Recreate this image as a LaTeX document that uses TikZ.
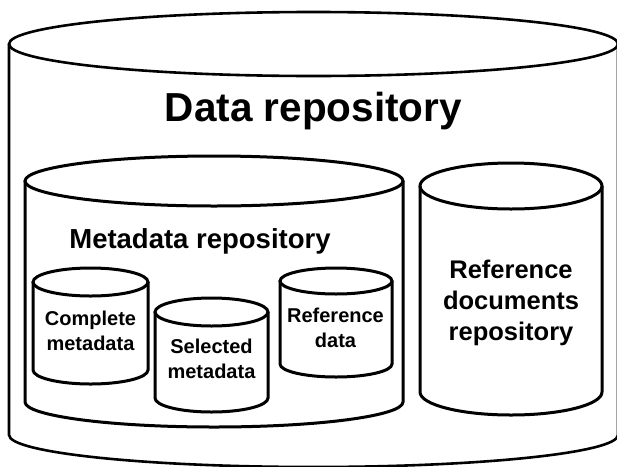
\documentclass[tikz,border=0pt]{standalone}
\usepackage{fontspec}
\setmainfont{Liberation Sans}
\usepackage{tikz}

% a standing cylinder: [style] centre x, half width, top y, bottom y, cap radius
\newcommand{\repodrum}[6][]{%
  \draw[#1] (#2,#4) ellipse [x radius=#3, y radius=#6];
  \draw[#1] (#2-#3,#4) -- (#2-#3,#5)
    arc [start angle=180, end angle=0, x radius=#3, y radius=#6] -- (#2+#3,#4);
}

% labels sit on the baseline of their last line
\tikzset{
  biglabel/.style={anchor=base, inner sep=0pt, font=\fontsize{40.5}{48}\selectfont\bfseries},
  midlabel/.style={anchor=base, inner sep=0pt, align=center, font=\fontsize{25.5}{31}\selectfont\bfseries},
  smalllabel/.style={anchor=base, inner sep=0pt, align=center, font=\fontsize{20}{24.5}\selectfont\bfseries}
}

\begin{document}
\begin{tikzpicture}[x=1pt, y=-1pt, line width=3pt]
    \useasboundingbox (0,0) rectangle (617,466);
    \clip (0,0) rectangle (617,466);
    % outer store
    \repodrum[line width=2.6pt]{313.5}{304.5}{44}{435}{32}
    \node[biglabel] (datarepo) at (313.5,121) {Data repository};
    % inner stores
    \repodrum{214}{189}{181}{402}{25}
    \node[midlabel, font=\fontsize{27.5}{33}\selectfont\bfseries] (metarepo) at (200,248) {Metadata repository};
    \repodrum{511}{91}{186}{392}{23}
    \node[midlabel] (refdocs) at (511,340) {Reference\\documents\\repository};
    % metadata parts
    \repodrum{90.5}{57.5}{282}{370}{14}
    \node[smalllabel] (complete) at (90.5,350) {Complete\\metadata};
    \repodrum{211.5}{56.5}{312}{398}{14}
    \node[smalllabel] (selected) at (211.5,378) {Selected\\metadata};
    \repodrum{336}{56}{281}{364}{13}
    \node[smalllabel] (refdata) at (335.5,347) {Reference\\data};
  \end{tikzpicture}
\end{document}
